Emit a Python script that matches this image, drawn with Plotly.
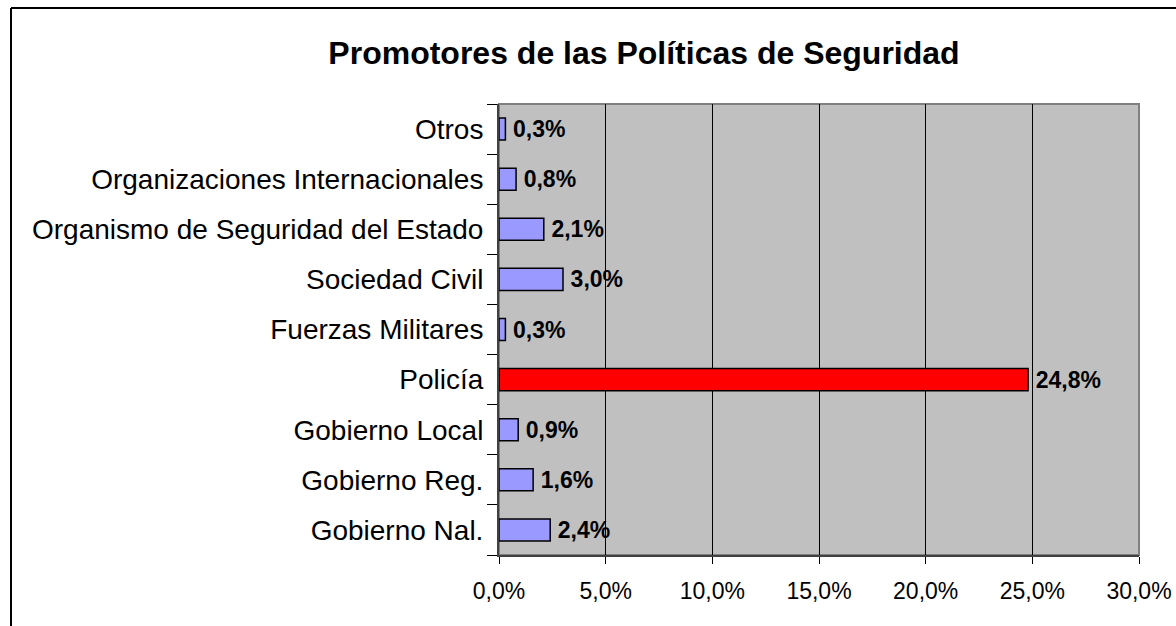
import plotly.graph_objects as go

categories = ["Gobierno Nal.", "Gobierno Reg.", "Gobierno Local", "Policía",
              "Fuerzas Militares", "Sociedad Civil", "Organismo de Seguridad del Estado",
              "Organizaciones Internacionales", "Otros"]
values = [2.4, 1.6, 0.9, 24.8, 0.3, 3.0, 2.1, 0.8, 0.3]
bar_colors = ["#9999FF", "#9999FF", "#9999FF", "#FF0000", "#9999FF",
              "#9999FF", "#9999FF", "#9999FF", "#9999FF"]
x_ticks = [0, 5, 10, 15, 20, 25, 30]
x_tick_labels = ["0,0%", "5,0%", "10,0%", "15,0%", "20,0%", "25,0%", "30,0%"]
title_text = "Promotores de las Políticas de Seguridad"

FONT = "Liberation Sans, Arial, Helvetica, sans-serif"

fig = go.Figure(go.Bar(
    x=values, y=categories, orientation="h",
    marker=dict(color=bar_colors, line=dict(color="#000000", width=1.5)),
    texttemplate="\u2009<b>%{x:.1f}%</b>", textposition="outside",
    constraintext="none",
    textfont=dict(family=FONT, size=23, color="#000000"),
    cliponaxis=False,
))

W, H = 1176, 626
L, R, T, B = 499, 37, 104, 71
pw, ph = W - L - R, H - T - B

def px_to_paper_x(px):
    return (px - L) / pw

def px_to_paper_y(py):
    return 1 - (py - T) / ph

fig.update_layout(
    width=W, height=H,
    margin=dict(l=L, r=R, t=T, b=B, pad=0, autoexpand=False),
    paper_bgcolor="#FFFFFF", plot_bgcolor="#C0C0C0",
    separators=",.",
    showlegend=False,
    bargap=0.56,
    font=dict(family=FONT, color="#000000"),
    title=dict(text="<b>" + title_text + "</b>", x=644 / W, xref="container", xanchor="center",
               y=1 - 53 / H, yref="container", yanchor="middle",
               font=dict(family=FONT, size=32, color="#000000")),
    xaxis=dict(range=[0, 30], tickvals=x_ticks, ticktext=x_tick_labels, automargin=False,
               showgrid=True, gridcolor="#000000", gridwidth=1,
               ticks="outside", ticklen=7, tickcolor="#000000", tickwidth=1,
               showline=True, linecolor="#404040", linewidth=2,
               zeroline=False, ticklabelstandoff=7,
               tickfont=dict(family=FONT, size=23, color="#000000"), fixedrange=True),
    yaxis=dict(type="category", categoryorder="array", categoryarray=categories, automargin=False,
               ticks="outside", tickson="boundaries", ticklen=10, tickcolor="#000000",
               tickwidth=1, showline=True, linecolor="#404040", linewidth=2,
               showgrid=False, zeroline=False, ticklabelstandoff=8,
               tickfont=dict(family=FONT, size=28, color="#000000"), fixedrange=True),
    shapes=[
        dict(type="rect", xref="paper", yref="paper", x0=0, x1=1, y0=0, y1=1,
             line=dict(color="#808080", width=2), layer="below", fillcolor="rgba(0,0,0,0)"),
        dict(type="line", xref="paper", yref="paper",
             x0=px_to_paper_x(11), x1=px_to_paper_x(11),
             y0=px_to_paper_y(8), y1=px_to_paper_y(700),
             line=dict(color="#000000", width=2)),
        dict(type="line", xref="paper", yref="paper",
             x0=px_to_paper_x(11), x1=px_to_paper_x(1300),
             y0=px_to_paper_y(8), y1=px_to_paper_y(8),
             line=dict(color="#000000", width=2)),
    ],
)

fig.write_html("out.html", config={"displayModeBar": False},
               post_script="document.body.style.margin='0px';document.body.style.overflow='hidden';")
